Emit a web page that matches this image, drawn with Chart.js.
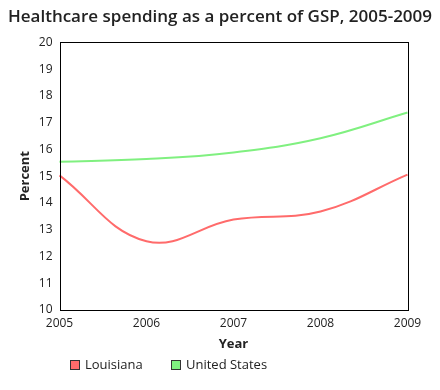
<!DOCTYPE html>
<html>
<head>
<meta charset="utf-8">
<script src="https://cdn.jsdelivr.net/npm/chart.js@4"></script>
<style>
  html, body { margin: 0; padding: 0; background: #fff; }
  #wrap { width: 440px; height: 390px; }
</style>
</head>
<body>
<div id="wrap"><canvas id="chart" width="440" height="390"></canvas></div>
<script>
// valeurs
const years = ['2005', '2006', '2007', '2008', '2009'];
const louisiana = [15.03, 12.57, 13.38, 13.68, 15.06];
const unitedStates = [15.54, 15.64, 15.89, 16.42, 17.38];
const yTicks = [10, 11, 12, 13, 14, 15, 16, 17, 18, 19, 20];

const seriesNames = ['Louisiana', 'United States'];
const lineColors = ['#ff6b6b', '#80f080'];

const FONT = "'Open Sans', 'Noto Sans', sans-serif";

// cadre noir autour de la zone de tracé + légende en bas à gauche
const framePlugin = {
    id: 'frame',
    afterDraw(chart) {
        const { ctx, chartArea: a } = chart;
        ctx.save();
        ctx.strokeStyle = '#000';
        ctx.lineWidth = 1;
        ctx.strokeRect(Math.round(a.left) + 0.5, Math.round(a.top) + 0.5,
            Math.round(a.right - a.left), Math.round(a.bottom - a.top));

        // légende
        ctx.font = '13px ' + FONT;
        ctx.textBaseline = 'middle';
        let x = 70;
        const y = 360;
        chart.data.datasets.forEach(ds => {
            ctx.fillStyle = ds.borderColor;
            ctx.fillRect(x, y, 10, 10);
            ctx.strokeStyle = '#333';
            ctx.strokeRect(x + 0.5, y + 0.5, 9, 9);
            ctx.fillStyle = '#222';
            ctx.fillText(ds.label, x + 15, y + 5.5);
            x += 101;
        });
        ctx.restore();
    }
};

const ctx = document.getElementById('chart').getContext('2d');
new Chart(ctx, {
    type: 'line',
    data: {
        labels: years,
        datasets: [
            {
                label: seriesNames[0],
                data: louisiana,
                borderColor: lineColors[0],
                backgroundColor: lineColors[0],
                borderWidth: 2,
                pointRadius: 0,
                tension: 0.4,
                fill: false
            },
            {
                label: seriesNames[1],
                data: unitedStates,
                borderColor: lineColors[1],
                backgroundColor: lineColors[1],
                borderWidth: 2,
                pointRadius: 0,
                tension: 0.4,
                fill: false
            }
        ]
    },
    options: {
        responsive: false,
        animation: false,
        layout: { padding: { left: 0, right: 0, top: 0, bottom: 38 } },
        plugins: {
            legend: { display: false },
            tooltip: { enabled: false },
            title: {
                display: true,
                text: 'Healthcare spending as a percent of GSP, 2005-2009',
                color: '#222',
                font: { family: FONT, size: 17, weight: '600' },
                padding: { top: 7, bottom: 15 }
            }
        },
        scales: {
            x: {
                offset: false,
                grid: { display: false, drawTicks: false },
                border: { display: false },
                ticks: {
                    color: '#222',
                    font: { family: FONT, size: 12 },
                    padding: 6,
                    maxRotation: 0,
                    autoSkip: false
                },
                title: {
                    display: true,
                    text: 'Year',
                    color: '#222',
                    font: { family: FONT, size: 13, weight: 'bold' },
                    padding: { top: 0, bottom: 0 }
                }
            },
            y: {
                min: yTicks[0],
                max: yTicks[yTicks.length - 1],
                grid: { display: false, drawTicks: false },
                border: { display: false },
                afterBuildTicks(scale) {
                    scale.ticks = yTicks.map(v => ({ value: v }));
                },
                afterFit(scale) { scale.width = 59.5; },
                ticks: {
                    color: '#222',
                    font: { family: FONT, size: 12 },
                    padding: 7
                },
                title: {
                    display: true,
                    text: 'Percent',
                    color: '#222',
                    font: { family: FONT, size: 13, weight: 'bold' },
                    padding: { top: 17, bottom: 4 }
                }
            },
            // marge à droite de la zone de tracé, sans rien afficher
            yRight: {
                position: 'right',
                display: true,
                grid: { display: false, drawTicks: false },
                border: { display: false },
                ticks: { display: false },
                afterFit(scale) { scale.width = 32.5; }
            }
        }
    },
    plugins: [framePlugin]
});
</script>
</body>
</html>
